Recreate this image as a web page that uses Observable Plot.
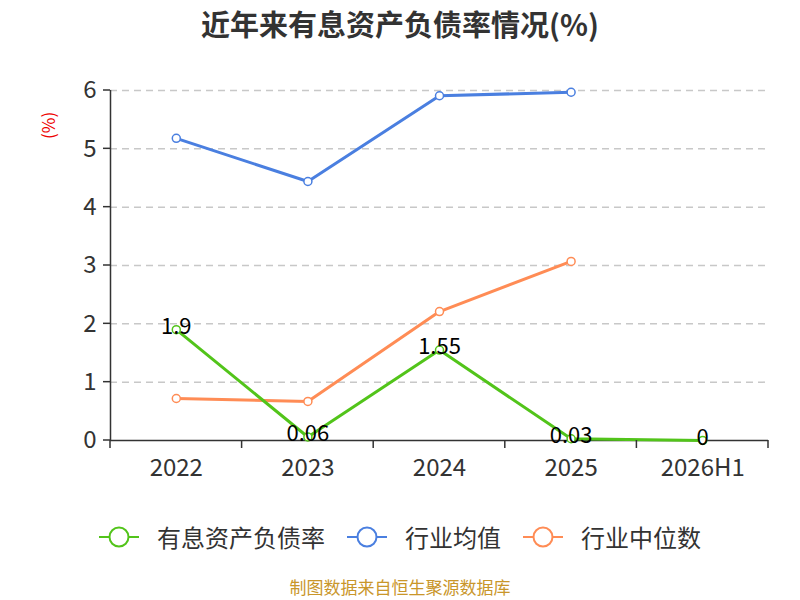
<!DOCTYPE html>
<html><head><meta charset="utf-8">
<script src="https://cdn.jsdelivr.net/npm/d3@7"></script>
<script src="https://cdn.jsdelivr.net/npm/@observablehq/plot@0.6"></script>
<style>
body{margin:0;background:#fff;font-family:"Noto Sans CJK SC","Noto Sans",sans-serif;}
#wrap{position:relative;width:800px;height:600px;overflow:hidden;}
#title{position:absolute;top:0;left:0;width:800px;text-align:center;font-size:29px;font-weight:bold;color:#333;line-height:46px;}
#ylab{position:absolute;left:35px;top:113px;width:26px;height:26px;color:#e00;font-size:17px;transform:rotate(-90deg);text-align:center;line-height:26px;}
#chart{position:absolute;top:0;left:0;}
#legend{position:absolute;top:519px;left:0;width:800px;display:flex;justify-content:center;gap:22px;font-size:24px;color:#333;line-height:36px;}
#legend .it{display:flex;align-items:center;gap:18px;}
#caption{position:absolute;top:577px;left:0;width:800px;text-align:center;font-size:17px;color:#c9962a;line-height:20px;}
</style></head>
<body><div id="wrap">
<div id="title">近年来有息资产负债率情况(%)</div>
<div id="chart"></div>
<div id="ylab">(%)</div>
<div id="legend"></div>
<div id="caption">制图数据来自恒生聚源数据库</div>
</div>
<script>
const categories = ["2022","2023","2024","2025","2026H1"];
const debtRatio = [1.9, 0.06, 1.55, 0.03, 0];
const debtLabels = ["1.9","0.06","1.55","0.03","0"];
const industryMean = [5.18, 4.44, 5.91, 5.97];
const industryMedian = [0.72, 0.67, 2.21, 3.07];
const yTicks = [0,1,2,3,4,5,6];
const seriesNames = ["有息资产负债率","行业均值","行业中位数"];
const colors = ["#52c41a","#4a7fe0","#ff8c55"];

const toRows = (vals, name) => vals.map((v,i)=>({i, v, name, cat: categories[i]}));
const green = toRows(debtRatio, seriesNames[0]).map((d,k)=>({...d, label: debtLabels[k]}));
const blue = toRows(industryMean, seriesNames[1]);
const orange = toRows(industryMedian, seriesNames[2]);
const idx = categories.map((c,i)=>i);
const bounds = [...idx.map(i=>i-0.5), categories.length-0.5];
const font = "Noto Sans CJK SC";

const plot = Plot.plot({
  width: 800, height: 500,
  marginLeft: 110, marginRight: 32, marginTop: 90, marginBottom: 60,
  style: {fontFamily: font, background: "transparent"},
  x: {type: "linear", domain: [-0.5, categories.length-0.5], axis: null},
  y: {domain: [0, 6], axis: null},
  marks: [
    Plot.ruleY(yTicks.filter(t=>t>0), {stroke: "#c8c8c8", strokeWidth: 1.5, strokeDasharray: "7,5"}),
    Plot.ruleY([0], {stroke: "#333", strokeWidth: 1.5}),
    Plot.ruleX([-0.5], {y1: 0, y2: 6, stroke: "#333", strokeWidth: 1.5}),
    Plot.text(yTicks, {x: -0.5, y: d=>d, text: d=>String(d), textAnchor: "end", dx: -14, fontSize: 24, fill: "#333"}),
    Plot.text(idx, {x: d=>d, y: 0, text: d=>categories[d], dy: 28, fontSize: 24, fill: "#333"}),
    Plot.line(blue, {x:"i", y:"v", stroke: colors[1], strokeWidth: 3}),
    Plot.line(orange, {x:"i", y:"v", stroke: colors[2], strokeWidth: 3}),
    Plot.line(green, {x:"i", y:"v", stroke: colors[0], strokeWidth: 3}),
    Plot.dot(blue, {x:"i", y:"v", r: 4, fill:"#fff", stroke: colors[1], strokeWidth: 1.5}),
    Plot.dot(orange, {x:"i", y:"v", r: 4, fill:"#fff", stroke: colors[2], strokeWidth: 1.5}),
    Plot.dot(green, {x:"i", y:"v", r: 4, fill:"#fff", stroke: colors[0], strokeWidth: 1.5}),
    Plot.text(green, {x:"i", y:"v", text:"label", fontSize: 22, fill:"#000", dy: -3})
  ]
});
document.getElementById("chart").appendChild(plot);

// tick marks drawn via scales
const svg = d3.select(plot);
const xs = plot.scale("x"), ys = plot.scale("y");
const g = svg.append("g").attr("stroke","#333").attr("stroke-width",1.5);
yTicks.forEach(t=>{
  const y = ys.apply(t), x0 = xs.apply(-0.5);
  g.append("line").attr("x1",x0-7).attr("x2",x0).attr("y1",y).attr("y2",y);
});
bounds.forEach(b=>{
  const x = xs.apply(b), y0 = ys.apply(0);
  g.append("line").attr("x1",x).attr("x2",x).attr("y1",y0).attr("y2",y0+8);
});

// legend
const leg = document.getElementById("legend");
seriesNames.forEach((n,k)=>{
  const it = document.createElement("div"); it.className="it";
  it.innerHTML = `<svg width="40" height="24"><line x1="0" x2="40" y1="12" y2="12" stroke="${colors[k]}" stroke-width="2"/><circle cx="20" cy="12" r="9.5" fill="#fff" stroke="${colors[k]}" stroke-width="2"/></svg><span>${n}</span>`;
  leg.appendChild(it);
});
</script>
</body></html>
